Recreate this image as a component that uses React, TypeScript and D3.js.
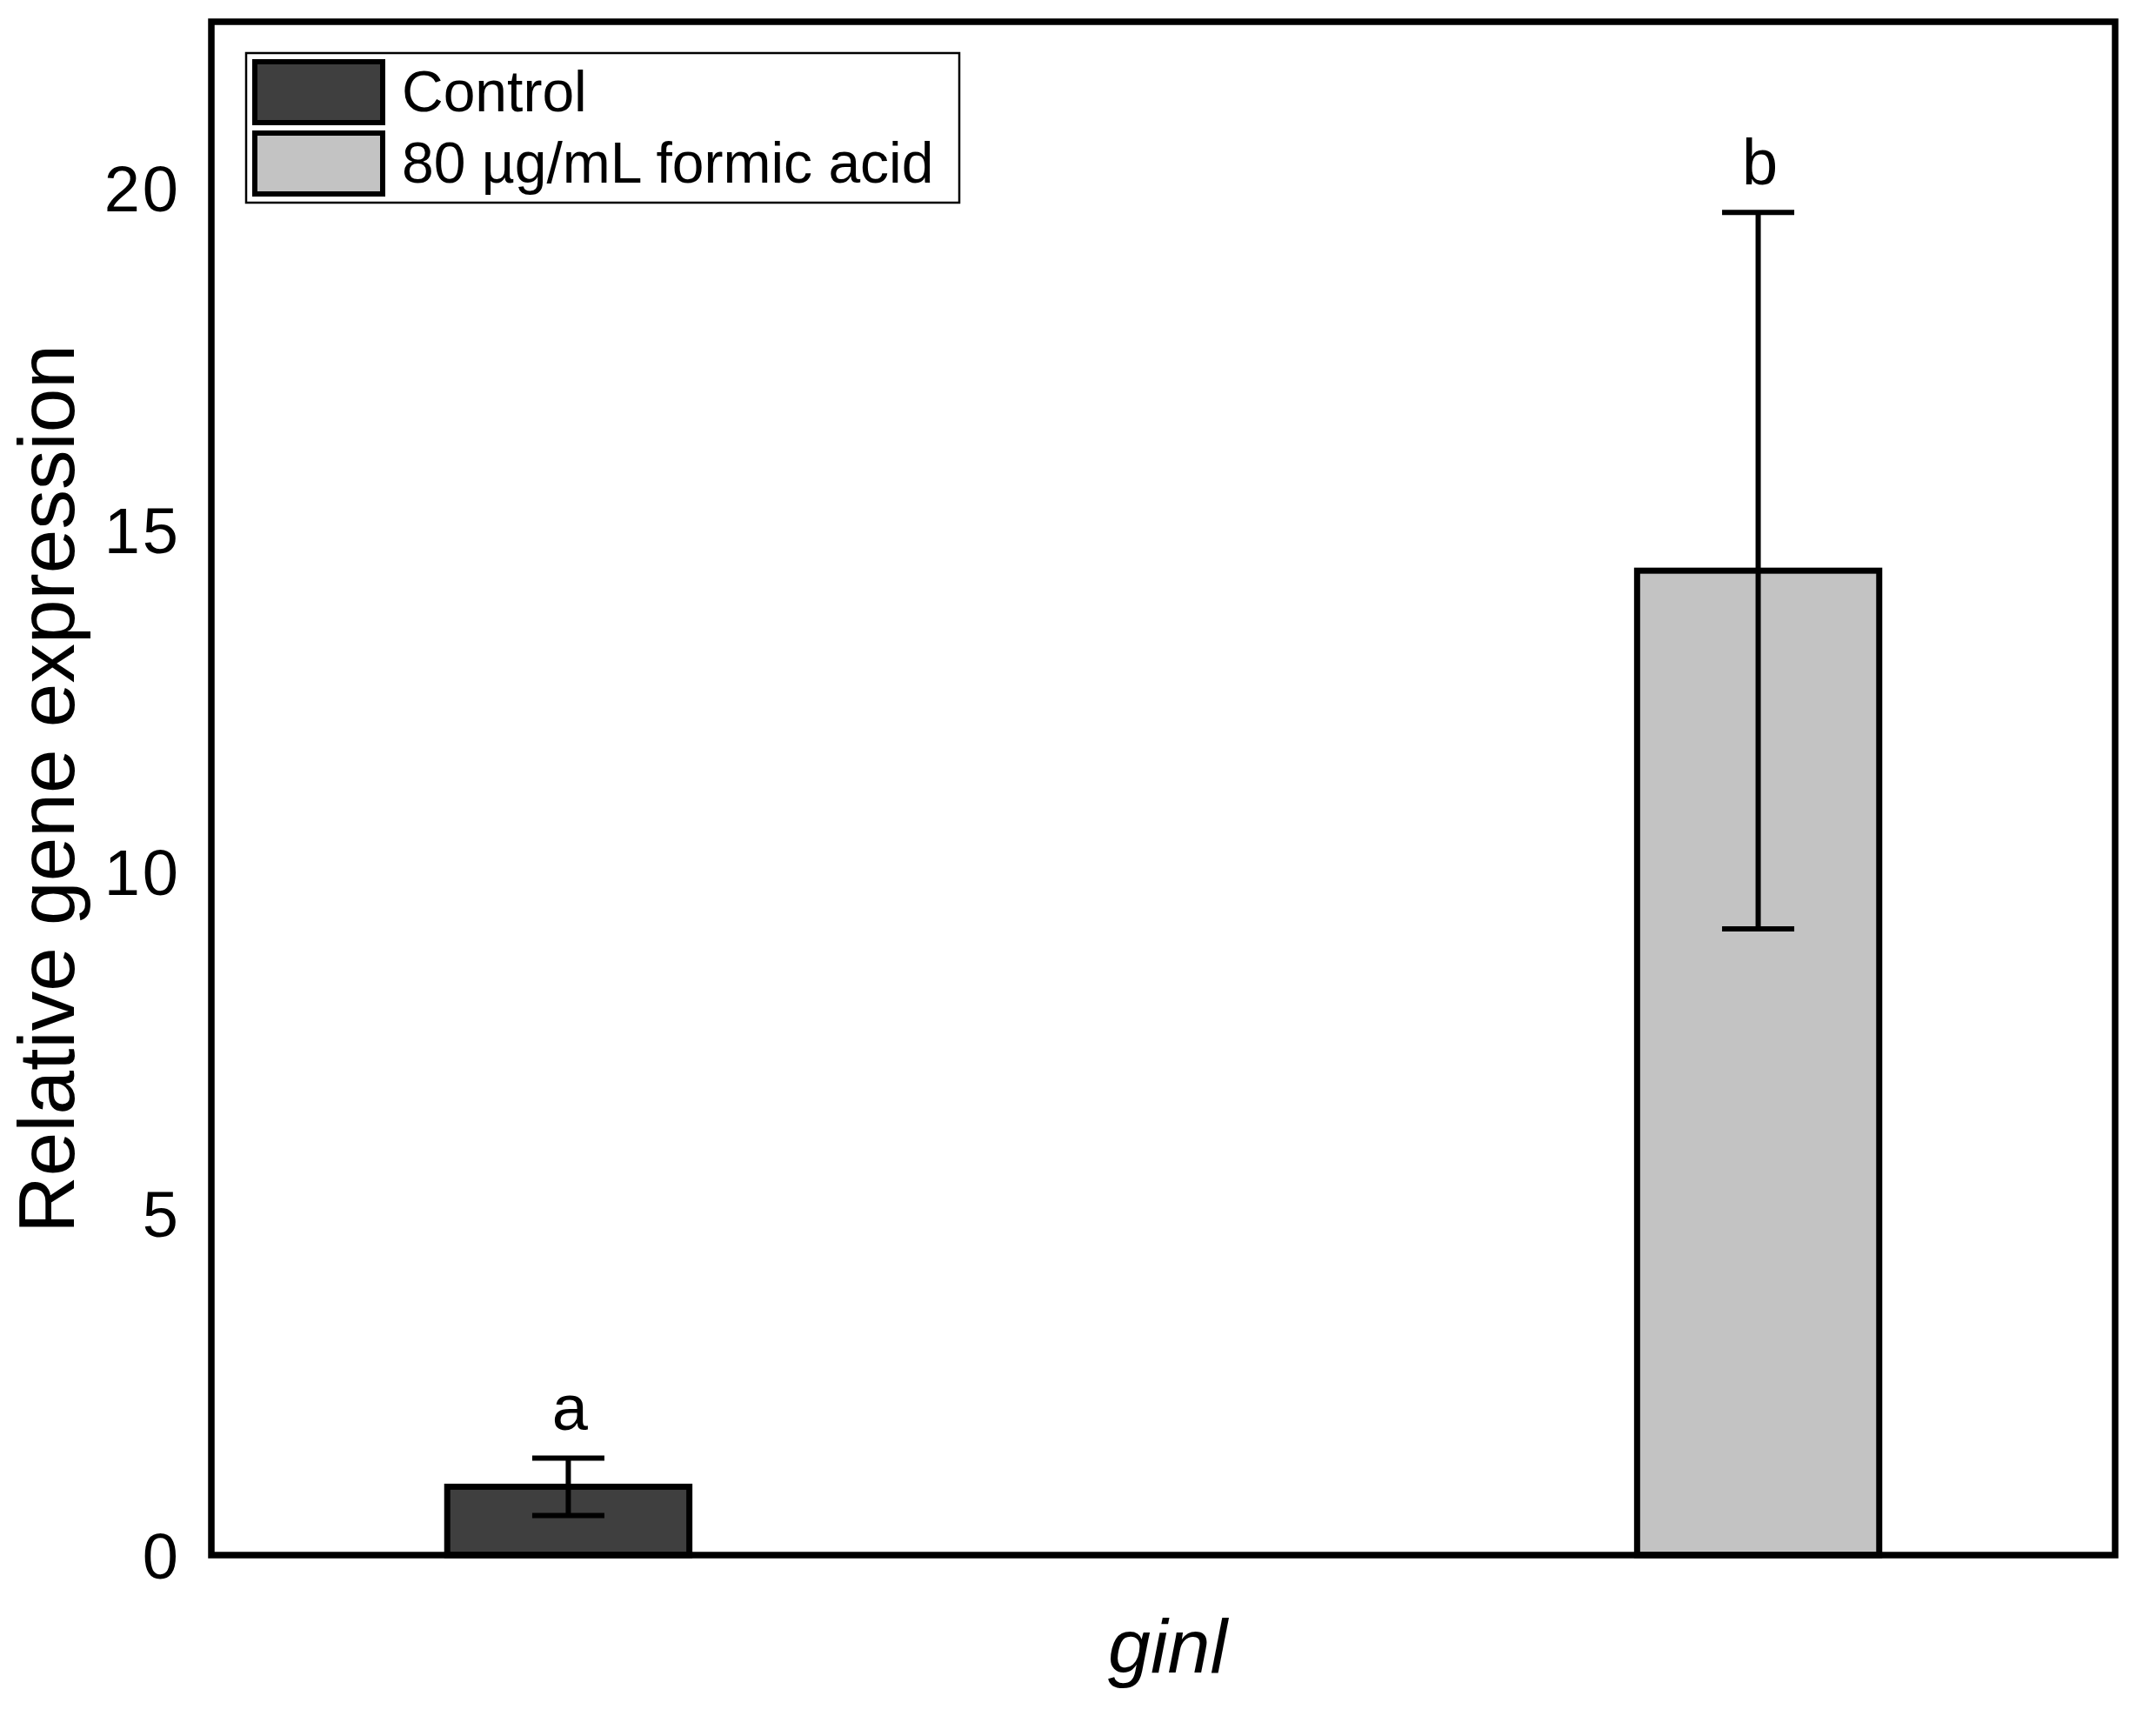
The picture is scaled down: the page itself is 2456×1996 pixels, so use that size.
import React from "react";
import * as d3 from "d3";

const groups = ["Control", "80 µg/mL formic acid"];
const means = [1.0, 14.4];
const errors = [0.42, 5.24];
const letters = ["a", "b"];
const yTicks = [0, 5, 10, 15, 20];
const category = "ginl";
const yLabel = "Relative gene expression";

const W = 2456;
const H = 1996;
const plot = { left: 243, right: 2432, top: 25, bottom: 1788 };
const fills = ["#3f3f3f", "#c3c3c3"];
const FONT = "'Liberation Sans', Arial, Helvetica, sans-serif";

export default function App() {
  const y = d3.scaleLinear().domain([0, 22.43]).range([plot.bottom, plot.top]);
  const x = d3.scalePoint<string>().domain(groups).range([plot.left, plot.right]).padding(0.3);
  const barW = x.step() * 0.2035;
  const capW = 83;

  const legendX = 283;
  const legendY = 61;
  const legendW = 820;
  const legendH = 172;
  const swatch = { x: 290, w: 153, ys: [68, 150], h: 76 };
  const textBase = [128, 210];

  return (
    <svg
      width={W}
      height={H}
      viewBox={`0 0 ${W} ${H}`}
      style={{ position: "absolute", left: 0, top: 0, background: "#fff", display: "block" }}
      fontFamily={FONT}
    >
      <rect x={0} y={0} width={W} height={H} fill="#fff" />

      {/* bars */}
      {groups.map((g, i) => {
        const cx = x(g)!;
        return (
          <rect
            key={g}
            x={cx - barW / 2}
            y={y(means[i])}
            width={barW}
            height={y(0) - y(means[i])}
            fill={fills[i]}
            stroke="#000"
            strokeWidth={7}
          />
        );
      })}

      {/* error bars */}
      {groups.map((g, i) => {
        const cx = x(g)!;
        const hi = y(means[i] + errors[i]);
        const lo = y(means[i] - errors[i]);
        return (
          <g key={"e" + g} stroke="#000" strokeWidth={6}>
            <line x1={cx} x2={cx} y1={hi} y2={lo} />
            <line x1={cx - capW / 2} x2={cx + capW / 2} y1={hi} y2={hi} />
            <line x1={cx - capW / 2} x2={cx + capW / 2} y1={lo} y2={lo} />
          </g>
        );
      })}

      {/* significance letters */}
      {groups.map((g, i) => (
        <text
          key={"l" + g}
          x={x(g)! + 2}
          y={y(means[i] + errors[i]) - 32}
          textAnchor="middle"
          fontSize={74}
          fill="#000"
        >
          {letters[i]}
        </text>
      ))}

      {/* frame */}
      <rect
        x={plot.left}
        y={plot.top}
        width={plot.right - plot.left}
        height={plot.bottom - plot.top}
        fill="none"
        stroke="#000"
        strokeWidth={7.5}
      />

      {/* y tick labels */}
      {yTicks.map((t) => (
        <text
          key={t}
          x={208}
          y={y(t)}
          dy="0.36em"
          textAnchor="end"
          fontSize={74}
          letterSpacing={3}
          fill="#000"
        >
          {t}
        </text>
      ))}

      {/* y axis label */}
      <text
        transform={`translate(85, 907) rotate(-90)`}
        textAnchor="middle"
        fontSize={91}
        fill="#000"
      >
        {yLabel}
      </text>

      {/* x label */}
      <text
        x={(plot.left + plot.right) / 2 + 5}
        y={1923}
        textAnchor="middle"
        fontSize={88}
        fontStyle="italic"
        fill="#000"
      >
        {category}
      </text>

      {/* legend */}
      <rect x={legendX} y={legendY} width={legendW} height={legendH} fill="#fff" stroke="#000" strokeWidth={2.5} />
      {groups.map((g, i) => (
        <g key={"lg" + g}>
          <rect
            x={swatch.x + 3}
            y={swatch.ys[i] + 3}
            width={swatch.w - 6}
            height={swatch.h - 6}
            fill={fills[i]}
            stroke="#000"
            strokeWidth={6}
          />
          <text x={462} y={textBase[i]} fontSize={66} fill="#000">
            {g}
          </text>
        </g>
      ))}
    </svg>
  );
}
